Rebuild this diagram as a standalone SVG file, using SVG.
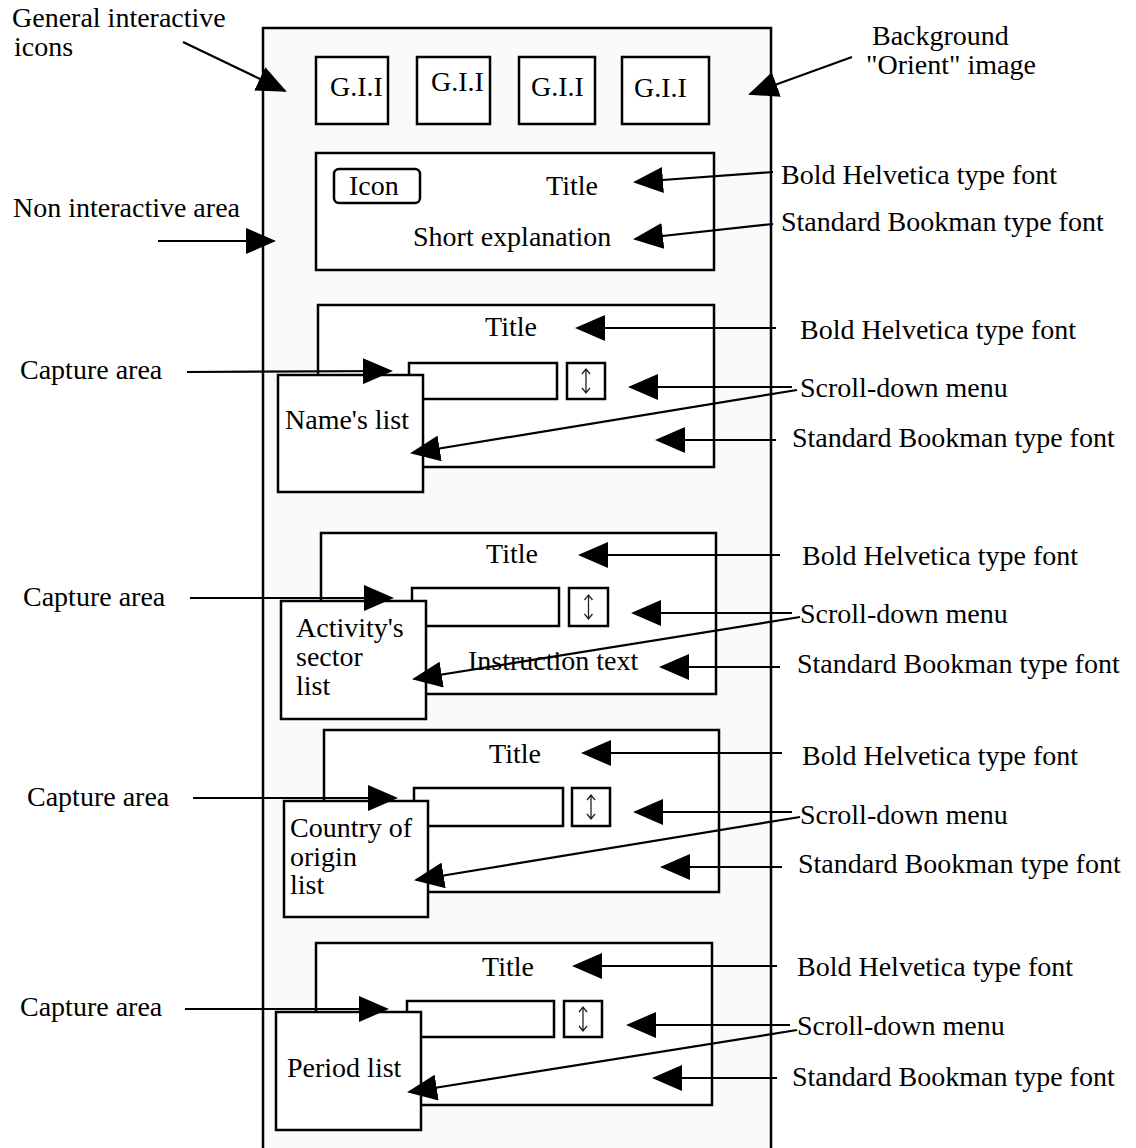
<svg xmlns="http://www.w3.org/2000/svg" xmlns:xlink="http://www.w3.org/1999/xlink" width="1136" height="1148" viewBox="0 0 1136 1148">
<style>
text{font-family:"Liberation Serif","Times New Roman",serif;font-size:28px;fill:#000}
.box{fill:#fff;stroke:#000;stroke-width:2.5}
.panel{fill:#fafafa;stroke:#000;stroke-width:2.5}
.ln{fill:none;stroke:#000;stroke-width:2.2;marker-end:url(#ah)}
.ud{fill:none;stroke:#222;stroke-width:1.3}
.mid{text-anchor:middle}
</style>
<defs>
<marker id="ah" markerUnits="userSpaceOnUse" viewBox="0 0 30 26" markerWidth="30" markerHeight="26" refX="28" refY="13" orient="auto">
<path d="M0,0 L30,13 L0,26 Z" fill="#000"/>
</marker>
<g id="updown"><path d="M0,-12 V12 M-4,-7 L0,-12 L4,-7 M-4,7 L0,12 L4,7"/></g>
</defs>
<rect width="1136" height="1148" fill="#fff"/>
<g id="panel"><rect class="panel" x="263" y="28" width="508" height="1140"/></g>

<g id="gii1"><rect class="box" x="316" y="57" width="72" height="67"/><text x="330" y="96">G.I.I</text></g>
<g id="gii2"><rect class="box" x="417" y="57" width="73" height="67"/><text x="431" y="91">G.I.I</text></g>
<g id="gii3"><rect class="box" x="519" y="57" width="76" height="67"/><text x="531" y="96">G.I.I</text></g>
<g id="gii4"><rect class="box" x="622" y="57" width="87" height="67"/><text x="634" y="97">G.I.I</text></g>

<g id="intro">
<rect class="box" x="316" y="153" width="398" height="117"/>
<rect class="box" x="334" y="169" width="86" height="34" rx="5"/>
<text x="349" y="195">Icon</text>
<text class="mid" x="572" y="195">Title</text>
<text x="413" y="246">Short explanation</text>
</g>

<g id="sec1">
<rect class="box" x="318" y="305" width="396" height="162"/>
<rect class="box" x="409" y="363" width="148" height="36"/>
<rect class="box" x="567" y="363" width="38" height="36"/>
<use xlink:href="#updown" href="#updown" class="ud" transform="translate(586,381)"/>
<rect class="box" x="278" y="375" width="145" height="117"/>
<text class="mid" x="511" y="336">Title</text>
<text x="285" y="429">Name's list</text>
</g>

<g id="sec2">
<rect class="box" x="321" y="533" width="395" height="161"/>
<rect class="box" x="412" y="588" width="147" height="38"/>
<rect class="box" x="569" y="588" width="39" height="38"/>
<use xlink:href="#updown" href="#updown" class="ud" transform="translate(588.5,607)"/>
<rect class="box" x="281" y="601" width="145" height="118"/>
<text class="mid" x="512" y="563">Title</text>
<text x="468" y="670">Instruction text</text>
<text x="296" y="637">Activity's</text>
<text x="296" y="666">sector</text>
<text x="296" y="695">list</text>
</g>

<g id="sec3">
<rect class="box" x="324" y="730" width="395" height="162"/>
<rect class="box" x="414" y="788" width="149" height="38"/>
<rect class="box" x="572" y="788" width="38" height="38"/>
<use xlink:href="#updown" href="#updown" class="ud" transform="translate(591,807)"/>
<rect class="box" x="284" y="801" width="144" height="116"/>
<text class="mid" x="515" y="763">Title</text>
<text x="290" y="837">Country of</text>
<text x="290" y="866">origin</text>
<text x="290" y="894">list</text>
</g>

<g id="sec4">
<rect class="box" x="316" y="943" width="396" height="162"/>
<rect class="box" x="407" y="1001" width="147" height="36"/>
<rect class="box" x="564" y="1001" width="38" height="36"/>
<use xlink:href="#updown" href="#updown" class="ud" transform="translate(583,1019)"/>
<rect class="box" x="276" y="1012" width="145" height="118"/>
<text class="mid" x="508" y="976">Title</text>
<text x="287" y="1077">Period list</text>
</g>

<g id="labels">
<text x="12" y="27">General interactive</text>
<text x="14" y="56"> icons</text>
<text x="872" y="45">Background</text>
<text x="866" y="74">"Orient" image</text>
<text x="13" y="217">Non interactive area</text>
<text x="781" y="184">Bold Helvetica type font</text>
<text x="781" y="231">Standard Bookman type font</text>

<text x="20" y="379">Capture area</text>
<text x="800" y="339">Bold Helvetica type font</text>
<text x="800" y="397">Scroll-down menu</text>
<text x="792" y="447">Standard Bookman type font</text>

<text x="23" y="606">Capture area</text>
<text x="802" y="565">Bold Helvetica type font</text>
<text x="800" y="623">Scroll-down menu</text>
<text x="797" y="673">Standard Bookman type font</text>

<text x="27" y="806">Capture area</text>
<text x="802" y="765">Bold Helvetica type font</text>
<text x="800" y="824">Scroll-down menu</text>
<text x="798" y="873">Standard Bookman type font</text>

<text x="20" y="1016">Capture area</text>
<text x="797" y="976">Bold Helvetica type font</text>
<text x="797" y="1035">Scroll-down menu</text>
<text x="792" y="1086">Standard Bookman type font</text>
</g>

<g id="connectors">
<line class="ln" x1="183" y1="42" x2="285" y2="91"/>
<line class="ln" x1="852" y1="57" x2="750" y2="94"/>
<line class="ln" x1="158" y1="241" x2="274" y2="241"/>
<line class="ln" x1="773" y1="172" x2="635" y2="182"/>
<line class="ln" x1="773" y1="224" x2="635" y2="239"/>

<line class="ln" x1="187" y1="372" x2="391" y2="371"/>
<line class="ln" x1="776" y1="328" x2="577" y2="328"/>
<line class="ln" x1="792" y1="387" x2="630" y2="387"/>
<line class="ln" x1="797" y1="390" x2="412" y2="453"/>
<line class="ln" x1="776" y1="440" x2="657" y2="440"/>

<line class="ln" x1="190" y1="598" x2="392" y2="598"/>
<line class="ln" x1="780" y1="555" x2="580" y2="555"/>
<line class="ln" x1="792" y1="613" x2="633" y2="613"/>
<line class="ln" x1="800" y1="617" x2="414" y2="679"/>
<line class="ln" x1="780" y1="667" x2="661" y2="667"/>

<line class="ln" x1="193" y1="798" x2="396" y2="798"/>
<line class="ln" x1="782" y1="753" x2="583" y2="753"/>
<line class="ln" x1="792" y1="812" x2="635" y2="812"/>
<line class="ln" x1="800" y1="817" x2="416" y2="880"/>
<line class="ln" x1="782" y1="867" x2="662" y2="867"/>

<line class="ln" x1="185" y1="1009" x2="387" y2="1009"/>
<line class="ln" x1="777" y1="966" x2="574" y2="966"/>
<line class="ln" x1="790" y1="1025" x2="628" y2="1025"/>
<line class="ln" x1="797" y1="1030" x2="409" y2="1092"/>
<line class="ln" x1="777" y1="1078" x2="654" y2="1078"/>
</g>
</svg>
